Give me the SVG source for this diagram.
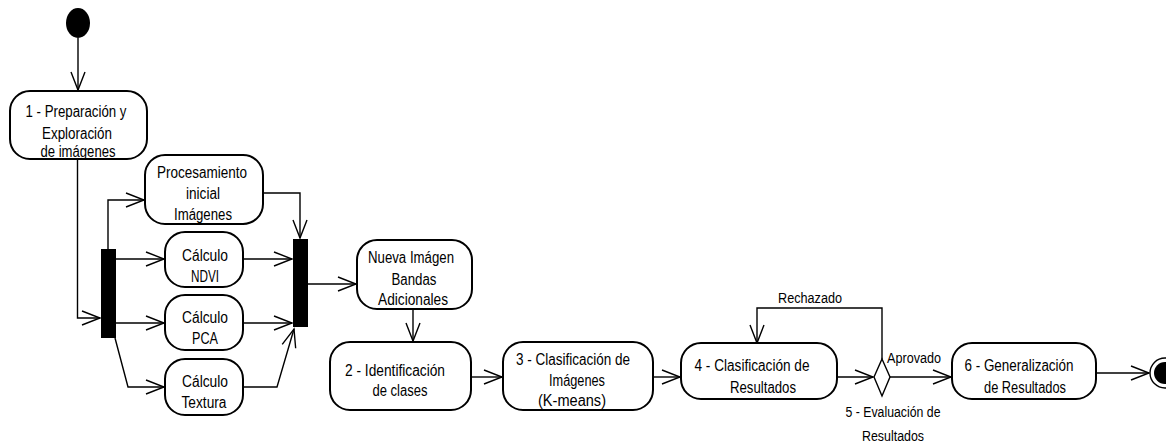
<svg xmlns="http://www.w3.org/2000/svg" width="1166" height="447" viewBox="0 0 1166 447">
<style>
.box{fill:#fff;stroke:#000;stroke-width:2}
.bar{fill:#000}
.c{fill:none;stroke:#000;stroke-width:1.4}
.t{font-family:"Liberation Sans",Arial,sans-serif;font-size:16px;text-anchor:middle;fill:#000}
.l{font-family:"Liberation Sans",Arial,sans-serif;font-size:15.5px;fill:#000}
</style>
<defs>
<marker id="a" markerUnits="userSpaceOnUse" markerWidth="22" markerHeight="20" viewBox="-20 -10 22 20" refX="0" refY="0" orient="auto">
<path d="M-18,-7 L0,0 L-18,7" fill="none" stroke="#000" stroke-width="1.4"/>
</marker>
</defs>
<g id="connectors">
<line class="c" x1="78" y1="38" x2="78" y2="90" marker-end="url(#a)"/>
<polyline class="c" points="77.5,159 77.5,318 100,318" marker-end="url(#a)"/>
<polyline class="c" points="108,249 108,200 144,200" marker-end="url(#a)"/>
<line class="c" x1="116" y1="259" x2="164" y2="259" marker-end="url(#a)"/>
<line class="c" x1="116" y1="323" x2="164" y2="323" marker-end="url(#a)"/>
<polyline class="c" points="115,338 128,387 164,387" marker-end="url(#a)"/>
<polyline class="c" points="263,193 300,193 300,238" marker-end="url(#a)"/>
<line class="c" x1="243" y1="259" x2="292" y2="259" marker-end="url(#a)"/>
<line class="c" x1="243" y1="323" x2="292" y2="323" marker-end="url(#a)"/>
<polyline class="c" points="243,387 277,387 294,329" marker-end="url(#a)"/>
<line class="c" x1="308" y1="284" x2="356" y2="284" marker-end="url(#a)"/>
<line class="c" x1="413" y1="309" x2="413" y2="341" marker-end="url(#a)"/>
<line class="c" x1="471" y1="377" x2="502" y2="377" marker-end="url(#a)"/>
<line class="c" x1="653" y1="377" x2="680" y2="377" marker-end="url(#a)"/>
<line class="c" x1="837" y1="377" x2="873" y2="377" marker-end="url(#a)"/>
<polyline class="c" points="882,359 882,308 757,308 757,343" marker-end="url(#a)"/>
<line class="c" x1="890" y1="377" x2="951" y2="377" marker-end="url(#a)"/>
<line class="c" x1="1096" y1="373" x2="1149" y2="373" marker-end="url(#a)"/>
<text class="l" x="778" y="303" textLength="64" lengthAdjust="spacingAndGlyphs">Rechazado</text>
<text class="l" x="887" y="363" textLength="54" lengthAdjust="spacingAndGlyphs">Aprovado</text>
</g>
<g id="start"><ellipse cx="78" cy="23" rx="12" ry="15" fill="#000"/></g>
<g id="n1">
<rect class="box" x="10" y="91" width="137" height="68" rx="20"/>
<text class="t" x="76" y="117" textLength="101" lengthAdjust="spacingAndGlyphs">1 - Preparación y</text>
<text class="t" x="77" y="139" textLength="70" lengthAdjust="spacingAndGlyphs">Exploración</text>
<text class="t" x="78" y="157" textLength="75" lengthAdjust="spacingAndGlyphs">de imágenes</text>
</g>
<g id="fork1"><rect class="bar" x="101" y="249" width="15" height="89"/></g>
<g id="proc">
<rect class="box" x="145" y="155" width="118" height="69" rx="20"/>
<text class="t" x="202" y="178" textLength="90" lengthAdjust="spacingAndGlyphs">Procesamiento</text>
<text class="t" x="203" y="199" textLength="34" lengthAdjust="spacingAndGlyphs">inicial</text>
<text class="t" x="203" y="220" textLength="58" lengthAdjust="spacingAndGlyphs">Imágenes</text>
</g>
<g id="ndvi">
<rect class="box" x="165" y="232" width="78" height="55" rx="20"/>
<text class="t" x="205" y="261" textLength="46" lengthAdjust="spacingAndGlyphs">Cálculo</text>
<text class="t" x="205" y="282" textLength="28" lengthAdjust="spacingAndGlyphs">NDVI</text>
</g>
<g id="pca">
<rect class="box" x="165" y="295" width="78" height="55" rx="20"/>
<text class="t" x="205" y="323" textLength="46" lengthAdjust="spacingAndGlyphs">Cálculo</text>
<text class="t" x="205" y="344" textLength="26" lengthAdjust="spacingAndGlyphs">PCA</text>
</g>
<g id="textura">
<rect class="box" x="165" y="359" width="78" height="56" rx="20"/>
<text class="t" x="205" y="387" textLength="46" lengthAdjust="spacingAndGlyphs">Cálculo</text>
<text class="t" x="204" y="408" textLength="45" lengthAdjust="spacingAndGlyphs">Textura</text>
</g>
<g id="fork2"><rect class="bar" x="293" y="239" width="15" height="88"/></g>
<g id="nueva">
<rect class="box" x="357" y="240" width="115" height="69" rx="20"/>
<text class="t" x="411" y="263" textLength="86" lengthAdjust="spacingAndGlyphs">Nueva Imágen</text>
<text class="t" x="414" y="285" textLength="45" lengthAdjust="spacingAndGlyphs">Bandas</text>
<text class="t" x="413" y="305" textLength="70" lengthAdjust="spacingAndGlyphs">Adicionales</text>
</g>
<g id="n2">
<rect class="box" x="330" y="342" width="141" height="68" rx="20"/>
<text class="t" x="395" y="376" textLength="100" lengthAdjust="spacingAndGlyphs">2 - Identificación</text>
<text class="t" x="400" y="396" textLength="55" lengthAdjust="spacingAndGlyphs">de clases</text>
</g>
<g id="n3">
<rect class="box" x="503" y="342" width="150" height="68" rx="20"/>
<text class="t" x="573" y="365" textLength="114" lengthAdjust="spacingAndGlyphs">3 - Clasificación de</text>
<text class="t" x="577" y="386" textLength="56" lengthAdjust="spacingAndGlyphs">Imágenes</text>
<text class="t" x="572" y="406" textLength="68" lengthAdjust="spacingAndGlyphs">(K-means)</text>
</g>
<g id="n4">
<rect class="box" x="681" y="343" width="156" height="56" rx="20"/>
<text class="t" x="752" y="371" textLength="115" lengthAdjust="spacingAndGlyphs">4 - Clasificación de</text>
<text class="t" x="763" y="393" textLength="66" lengthAdjust="spacingAndGlyphs">Resultados</text>
</g>
<g id="n5">
<polygon points="882,359 890,377 882,396 874,377" fill="#fff" stroke="#000" stroke-width="1.4"/>
<text class="l" x="893" y="417" text-anchor="middle" textLength="95" lengthAdjust="spacingAndGlyphs">5 - Evaluación de</text>
<text class="l" x="893" y="441" text-anchor="middle" textLength="62" lengthAdjust="spacingAndGlyphs">Resultados</text>
</g>
<g id="n6">
<rect class="box" x="952" y="343" width="144" height="56" rx="20"/>
<text class="t" x="1019" y="371" textLength="109" lengthAdjust="spacingAndGlyphs">6 - Generalización</text>
<text class="t" x="1025" y="393" textLength="82" lengthAdjust="spacingAndGlyphs">de Resultados</text>
</g>
<g id="end">
<circle cx="1165" cy="373" r="15" fill="#fff" stroke="#000" stroke-width="1.4"/>
<circle cx="1165" cy="373" r="11" fill="#000"/>
</g>
</svg>
